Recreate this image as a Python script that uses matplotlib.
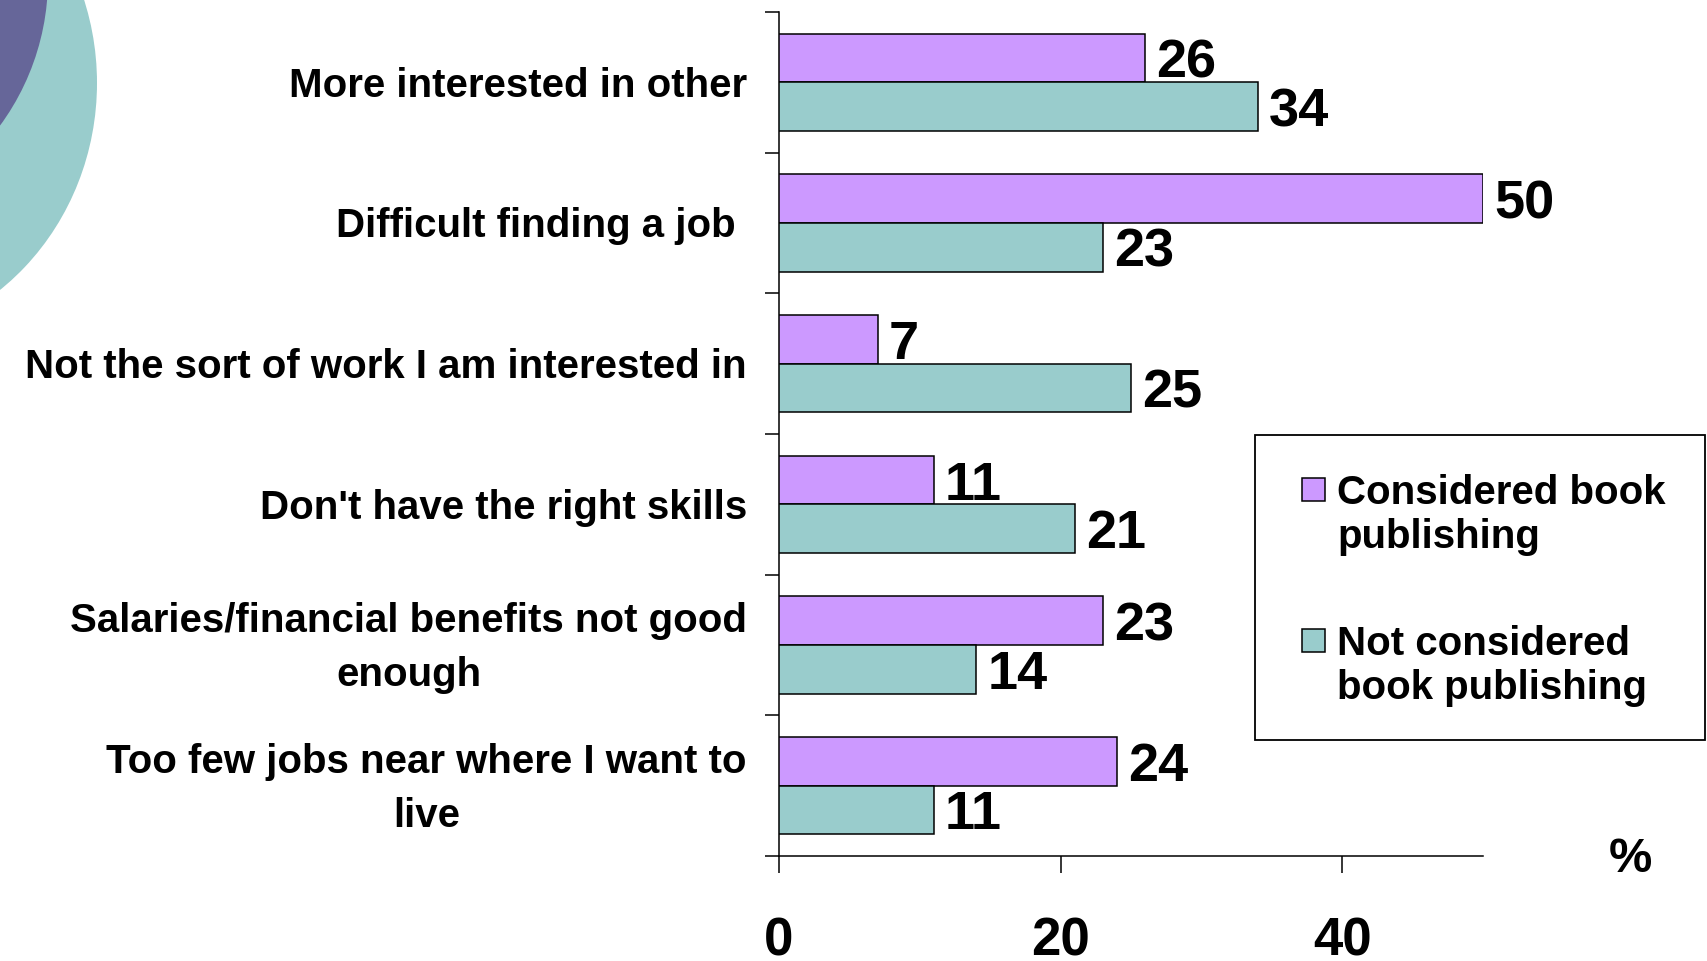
import matplotlib
matplotlib.use("Agg")
import matplotlib.pyplot as plt
from matplotlib.patches import Rectangle, Ellipse, Circle
from matplotlib.transforms import blended_transform_factory, ScaledTranslation
import numpy as np

# ---- data ----
categories = [
    "More interested in other",
    "Difficult finding a job ",
    "Not the sort of work I am interested in",
    "Don't have the right skills",
    "Salaries/financial benefits not good\nenough",
    "Too few jobs near where I want to\nlive",
]
series_names = ["Considered book\npublishing", "Not considered\nbook publishing"]
considered = [26, 50, 7, 11, 23, 24]
not_considered = [34, 23, 25, 21, 14, 11]
xticks = [0, 20, 40]
unit_label = "%"

# ---- style ----
plt.rcParams['font.family'] = ['Liberation Sans', 'DejaVu Sans']
plt.rcParams['font.weight'] = 'bold'
purple = "#CC99FF"
teal = "#99CCCC"
W, H = 1707, 961
fig = plt.figure(figsize=(W / 100, H / 100), dpi=100)

def fx(px):
    return px / W

def fy(py):
    return 1 - py / H

ax_left, ax_right, ax_top, ax_bot = 779, 1483, 12, 856
ax = fig.add_axes([fx(ax_left), fy(ax_bot), fx(ax_right - ax_left), (ax_bot - ax_top) / H])
ax.set_facecolor('none')

n = len(categories)
y = np.arange(n)
bh = 0.345
ax.barh(y - bh / 2, considered, height=bh, color=purple, edgecolor='black', linewidth=1.1, zorder=3)
ax.barh(y + bh / 2, not_considered, height=bh, color=teal, edgecolor='black', linewidth=1.1, zorder=3)

for yi, v in zip(y - bh / 2, considered):
    ax.annotate(str(v), (v, yi), xytext=(8.0, -14.0), textcoords='offset points',
                ha='left', va='baseline', fontsize=39, fontweight='bold')
for yi, v in zip(y + bh / 2, not_considered):
    ax.annotate(str(v), (v, yi), xytext=(8.0, -14.0), textcoords='offset points',
                ha='left', va='baseline', fontsize=39, fontweight='bold')

ax.set_xlim(0, 50)
ax.set_ylim(n - 0.5, -0.5)

for s in ['top', 'right']:
    ax.spines[s].set_visible(False)
ax.spines['left'].set_linewidth(1.1)
ax.spines['bottom'].set_linewidth(1.1)

ax.set_xticks(xticks)
ax.set_xticklabels([str(t) for t in xticks], fontsize=38, fontweight='bold')
ax.tick_params(axis='x', direction='out', length=12.2, width=1.1, pad=31.5)

# category boundaries as outward ticks
ax.set_yticks(np.arange(n + 1) - 0.5)
ax.set_yticklabels([])
ax.tick_params(axis='y', which='major', direction='out', length=10.1, width=1.1)

# category labels next to the axis
lab_trans = blended_transform_factory(ax.transAxes, ax.transData) + \
    ScaledTranslation(-32 / 100, -3.3 / 100, fig.dpi_scale_trans)
for yi, lab in zip(y, categories):
    ax.text(0, yi, lab, transform=lab_trans, ha='right', va='center',
            multialignment='center', linespacing=1.52, fontsize=29, fontweight='bold')

# ---- overlay (decoration + legend) in pixel coordinates ----
ov = fig.add_axes([0, 0, 1, 1], zorder=5)
ov.set_xlim(0, W)
ov.set_ylim(H, 0)
ov.axis('off')
ov.set_facecolor('none')

ov.add_patch(Ellipse((-150, 83), 494, 521, facecolor=teal, edgecolor='none'))
ov.add_patch(Circle((-200, -21), 248, facecolor="#666699", edgecolor='none'))

ov.add_patch(Rectangle((1255, 435), 450, 305, facecolor='white', edgecolor='black', linewidth=1.3))
for (sq_top, base), name, col in zip([(478, 548), (629, 699)], series_names, [purple, teal]):
    ov.add_patch(Rectangle((1302, sq_top), 23, 23, facecolor=col, edgecolor='black', linewidth=1.1))
    ov.text(1337, base, name, fontsize=29, fontweight='bold', ha='left', va='baseline',
            linespacing=1.2)

ov.text(1630.5, 872.5, unit_label, fontsize=35, fontweight='bold', ha='center', va='baseline')

fig.savefig("out.png", dpi=100)
